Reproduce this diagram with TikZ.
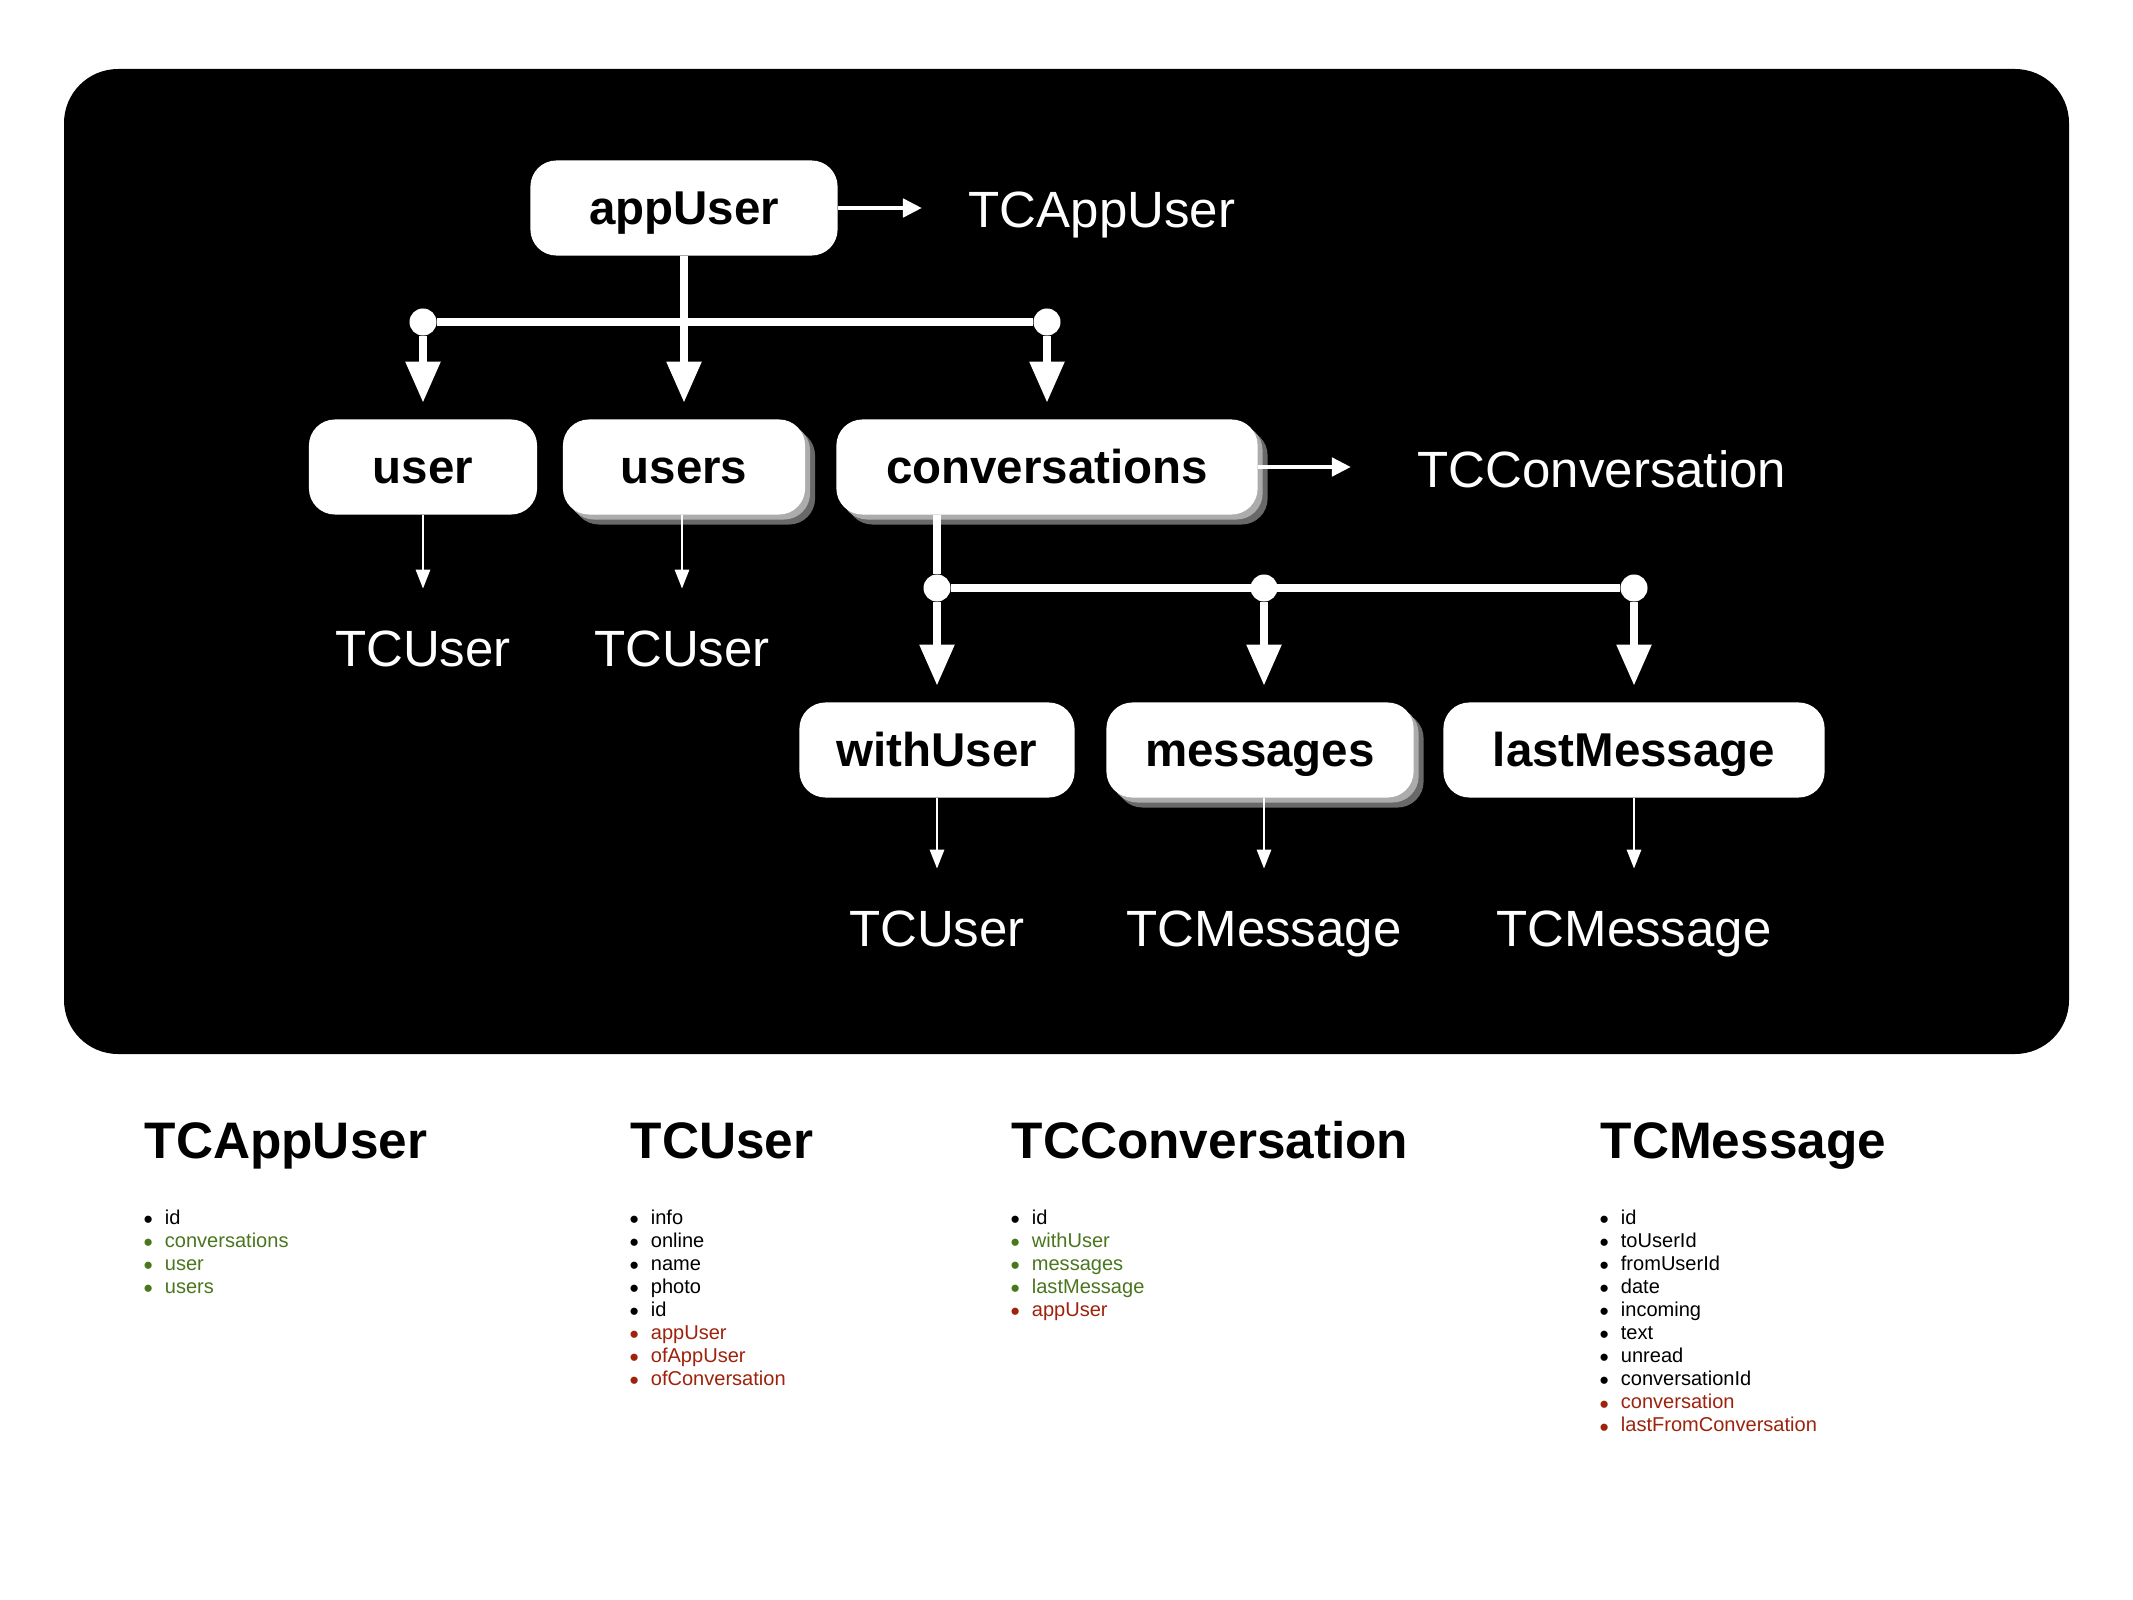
\documentclass[tikz,border=0pt]{standalone}
\usepackage{fontspec}
\setmainfont{Liberation Sans}
\usetikzlibrary{arrows.meta,shadows,positioning,calc}
\definecolor{attrgreen}{RGB}{74,118,30}
\definecolor{attrred}{RGB}{158,34,12}
\definecolor{shadowdark}{RGB}{105,105,105}
\definecolor{shadowlight}{RGB}{172,172,172}
\newcommand{\attr}[2]{{\color{#1}\smash{\raisebox{-1.2pt}{\fontsize{7.5}{6.57}\selectfont\textbullet}}\hspace{3.4pt}#2}}

\begin{document}
\begin{tikzpicture}[x=0.01cm, y=-0.01cm,
    field/.style={fill=white, rounded corners=0.26cm, inner sep=0pt, minimum height=0.95cm,
        font=\fontsize{13.5}{16}\selectfont\bfseries, text height=12pt, text depth=2.4pt},
    shadowed/.style={general shadow={shadow xshift=0.1cm, shadow yshift=-0.1cm, fill=shadowdark},
        general shadow={shadow xshift=0.05cm, shadow yshift=-0.05cm, fill=shadowlight}},
    typename/.style={text=white, inner sep=0pt, font=\fontsize{14.5}{17}\selectfont},
    junction/.style={circle, fill=white, inner sep=0pt, minimum size=0.27cm},
    bus/.style={white, line width=2.3pt},
    relation/.style={bus, shorten >=0.16cm, -{Triangle[length=0.41cm, width=0.33cm]}},
    typearrow/.style={white, line width=0.8pt, -{Triangle[length=0.19cm, width=0.14cm]}},
    sidearrow/.style={white, line width=1.3pt, -{Triangle[length=0.19cm, width=0.18cm]}},
    heading/.style={inner sep=0pt, anchor=base west, font=\fontsize{14.6}{17}\selectfont\bfseries},
    attrlist/.style={inner sep=0pt, anchor=base west, font=\fontsize{5.7}{6.57}\selectfont}]

    \fill[white] (0,0) rectangle (2133,1600);
    \fill[black, rounded corners=0.54cm] (64,69) rectangle (2069,1054);

    % tree
    \node[field, minimum width=3.07cm] (appUser) at (684,208) {appUser};
    \node[field, minimum width=2.28cm] (user) at (423,467) {user};
    \node[field, shadowed, minimum width=2.42cm] (users) at (684,467) {users};
    \node[field, shadowed, minimum width=4.21cm] (conversations) at (1047,467) {conversations};
    \node[field, minimum width=2.75cm] (withUser) at (937,750) {withUser};
    \node[field, shadowed, minimum width=3.07cm] (messages) at (1260,750) {messages};
    \node[field, minimum width=3.81cm] (lastMessage) at (1634,750) {lastMessage};

    \node[typename, anchor=base west] (tAppUser) at (968,228) {TCAppUser};
    \node[typename, anchor=base west] (tConversation) at (1417,487) {TCConversation};
    \node[typename, anchor=base] (tUser) at (423,666) {TCUser};
    \node[typename, anchor=base] (tUsers) at (682,666) {TCUser};
    \node[typename, anchor=base] (tWithUser) at (937,946) {TCUser};
    \node[typename, anchor=base] (tMessages) at (1264,946) {TCMessage};
    \node[typename, anchor=base] (tLastMessage) at (1634,946) {TCMessage};

    \node[junction] (jUser) at (423,322) {};
    \node[junction] (jConversations) at (1047,322) {};
    \node[junction] (jWithUser) at (937,588) {};
    \node[junction] (jMessages) at (1264,588) {};
    \node[junction] (jLastMessage) at (1634,588) {};

    \draw[bus] (jUser) -- (jConversations);
    \draw[relation] (appUser) -- (users);
    \draw[relation] (jUser) -- (user);
    \draw[relation] (jConversations) -- (conversations);
    \draw[bus] (conversations.south -| jWithUser) -- (jWithUser);
    \draw[bus] (jWithUser) -- (jLastMessage);
    \draw[relation] (jWithUser) -- (withUser);
    \draw[relation] (jMessages) -- (messages.north -| jMessages);
    \draw[relation] (jLastMessage) -- (lastMessage);

    \draw[sidearrow, shorten >=0.46cm] (appUser) -- (appUser -| tAppUser.west);
    \draw[sidearrow, shorten >=0.66cm] (conversations) -- (conversations -| tConversation.west);
    \draw[typearrow, shorten >=0.41cm] (user) -- (tUser);
    \draw[typearrow, shorten >=0.41cm] (users.south -| tUsers) -- (tUsers);
    \draw[typearrow, shorten >=0.41cm] (withUser) -- (tWithUser);
    \draw[typearrow, shorten >=0.41cm] (messages.south -| tMessages) -- (tMessages);
    \draw[typearrow, shorten >=0.41cm] (lastMessage) -- (tLastMessage);

    % legend
    \node[heading] (hAppUser) at (144,1158) {TCAppUser};
    \node[heading] (hUser) at (630,1158) {TCUser};
    \node[heading] (hConversation) at (1011,1158) {TCConversation};
    \node[heading] (hMessage) at (1600,1158) {TCMessage};

    \node[attrlist] (lAppUser) at (143,1224) {\begin{tabular}[t]{@{}l@{}}
        \attr{black}{id}\\ \attr{attrgreen}{conversations}\\ \attr{attrgreen}{user}\\
        \attr{attrgreen}{users}\end{tabular}};
    \node[attrlist] (lUser) at (629,1224) {\begin{tabular}[t]{@{}l@{}}
        \attr{black}{info}\\ \attr{black}{online}\\ \attr{black}{name}\\ \attr{black}{photo}\\
        \attr{black}{id}\\ \attr{attrred}{appUser}\\ \attr{attrred}{ofAppUser}\\
        \attr{attrred}{ofConversation}\end{tabular}};
    \node[attrlist] (lConversation) at (1010,1224) {\begin{tabular}[t]{@{}l@{}}
        \attr{black}{id}\\ \attr{attrgreen}{withUser}\\ \attr{attrgreen}{messages}\\
        \attr{attrgreen}{lastMessage}\\ \attr{attrred}{appUser}\end{tabular}};
    \node[attrlist] (lMessage) at (1599,1224) {\begin{tabular}[t]{@{}l@{}}
        \attr{black}{id}\\ \attr{black}{toUserId}\\ \attr{black}{fromUserId}\\ \attr{black}{date}\\
        \attr{black}{incoming}\\ \attr{black}{text}\\ \attr{black}{unread}\\
        \attr{black}{conversationId}\\ \attr{attrred}{conversation}\\
        \attr{attrred}{lastFromConversation}\end{tabular}};
\end{tikzpicture}
\end{document}
